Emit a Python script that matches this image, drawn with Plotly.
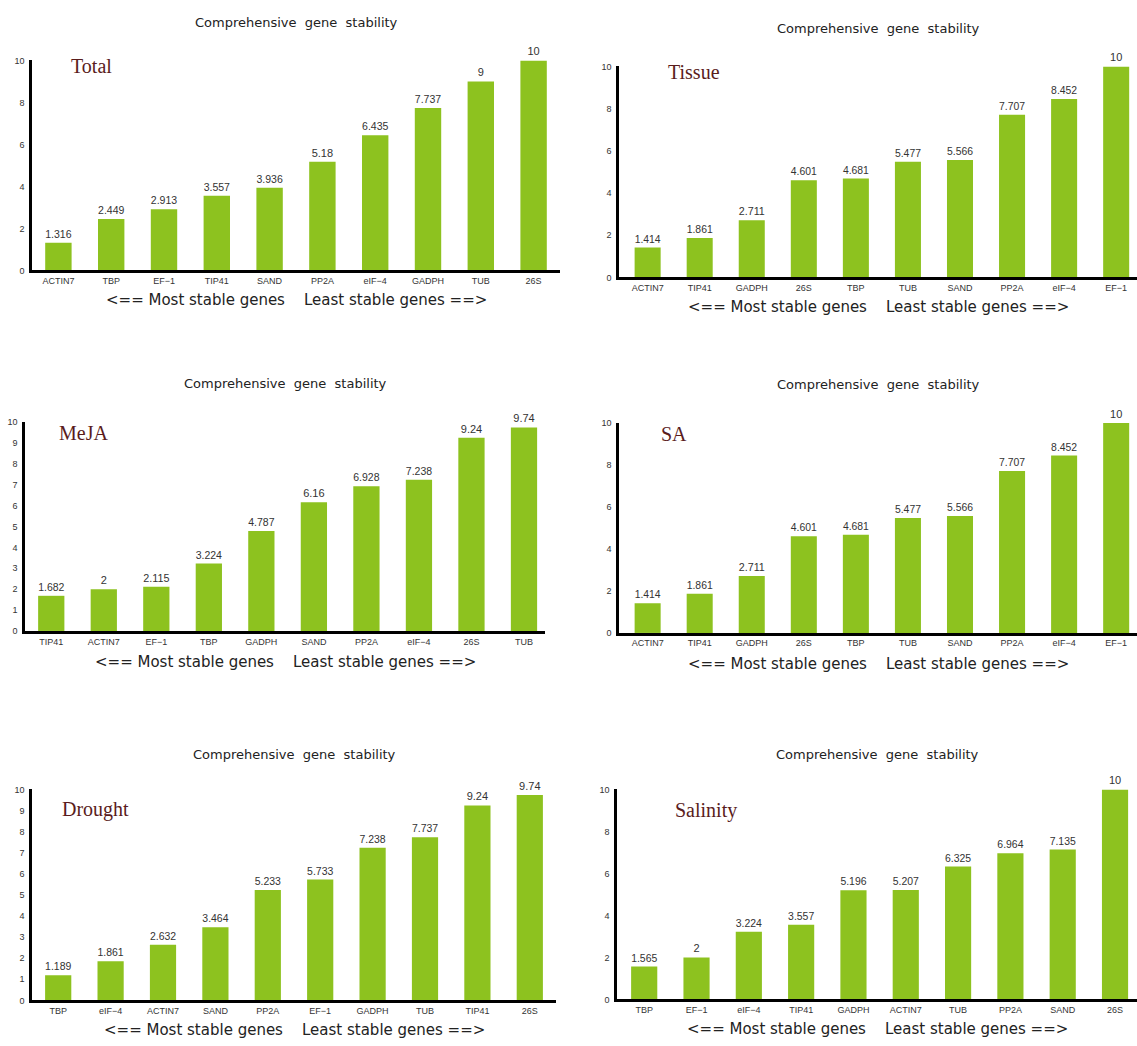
import plotly.graph_objects as go

# Comprehensive gene stability rankings (geometric mean of ranks) per condition
total_genes = ["ACTIN7", "TBP", "EF\u22121", "TIP41", "SAND", "PP2A", "eIF\u22124", "GADPH", "TUB", "26S"]
total_vals = [1.316, 2.449, 2.913, 3.557, 3.936, 5.18, 6.435, 7.737, 9, 10]

tissue_genes = ["ACTIN7", "TIP41", "GADPH", "26S", "TBP", "TUB", "SAND", "PP2A", "eIF\u22124", "EF\u22121"]
tissue_vals = [1.414, 1.861, 2.711, 4.601, 4.681, 5.477, 5.566, 7.707, 8.452, 10]

meja_genes = ["TIP41", "ACTIN7", "EF\u22121", "TBP", "GADPH", "SAND", "PP2A", "eIF\u22124", "26S", "TUB"]
meja_vals = [1.682, 2, 2.115, 3.224, 4.787, 6.16, 6.928, 7.238, 9.24, 9.74]

sa_genes = ["ACTIN7", "TIP41", "GADPH", "26S", "TBP", "TUB", "SAND", "PP2A", "eIF\u22124", "EF\u22121"]
sa_vals = [1.414, 1.861, 2.711, 4.601, 4.681, 5.477, 5.566, 7.707, 8.452, 10]

drought_genes = ["TBP", "eIF\u22124", "ACTIN7", "SAND", "PP2A", "EF\u22121", "GADPH", "TUB", "TIP41", "26S"]
drought_vals = [1.189, 1.861, 2.632, 3.464, 5.233, 5.733, 7.238, 7.737, 9.24, 9.74]

salinity_genes = ["TBP", "EF\u22121", "eIF\u22124", "TIP41", "GADPH", "ACTIN7", "TUB", "PP2A", "SAND", "26S"]
salinity_vals = [1.565, 2, 3.224, 3.557, 5.196, 5.207, 6.325, 6.964, 7.135, 10]

panel_names = ["Total", "Tissue", "MeJA", "SA", "Drought", "Salinity"]
y_steps = [2, 2, 1, 2, 1, 2]

W, H = 1137, 1046
BAR = "#8dc21f"
TITLE = "Comprehensive  gene  stability"
XTITLE = "<== Most stable genes    Least stable genes ==>"

# pixel geometry of each panel: axis left/right, y of value 0 and 10,
# x range, title y, axis-title y, panel label position
geom = [
    dict(x0=32, x1=560, y0=268, y10=56, xr=[-0.5, 9.5], ty=18, aty=298, lx=69, ly=62),
    dict(x0=619, x1=1137, y0=275, y10=62, xr=[-0.55, 9.4], ty=24, aty=305, lx=666, ly=68),
    dict(x0=25, x1=545, y0=632, y10=421, xr=[-0.5, 9.4], ty=382, aty=663, lx=57, ly=432),
    dict(x0=619, x1=1137, y0=634, y10=422, xr=[-0.55, 9.4], ty=383, aty=665, lx=659, ly=433),
    dict(x0=32, x1=556, y0=1005, y10=792, xr=[-0.5, 9.5], ty=757, aty=1035, lx=60, ly=812),
    dict(x0=617, x1=1137, y0=1004, y10=792, xr=[-0.52, 9.42], ty=757, aty=1034, lx=673, ly=813),
]

data = [
    (total_genes, total_vals),
    (tissue_genes, tissue_vals),
    (meja_genes, meja_vals),
    (sa_genes, sa_vals),
    (drought_genes, drought_vals),
    (salinity_genes, salinity_vals),
]

fig = go.Figure()
annotations = []
layout_axes = {}

for i, ((genes, vals), g) in enumerate(zip(data, geom)):
    n = i + 1
    xa = "x" if n == 1 else f"x{n}"
    ya = "y" if n == 1 else f"y{n}"
    fig.add_trace(go.Bar(
        x=list(range(len(genes))), y=vals,
        xaxis=xa, yaxis=ya,
        width=0.5,
        marker=dict(color=BAR, line=dict(width=0)),
        text=[f"{v:g}" for v in vals],
        textposition="outside",
        textfont=dict(family="Liberation Sans, Arial", size=11, color="#333333"),
        cliponaxis=False,
        showlegend=False,
        hoverinfo="skip",
    ))
    step = y_steps[i]
    layout_axes["xaxis" if n == 1 else f"xaxis{n}"] = dict(
        domain=[g["x0"] / W, min(g["x1"] / W, 1.0)],
        range=g["xr"],
        anchor=ya,
        tickmode="array",
        tickvals=list(range(len(genes))),
        ticktext=genes,
        tickfont=dict(family="Liberation Sans, Arial", size=9, color="#333333"),
        showline=True, linecolor="black", linewidth=2.5,
        showgrid=False, zeroline=False, ticks="",
        fixedrange=True,
    )
    layout_axes["yaxis" if n == 1 else f"yaxis{n}"] = dict(
        domain=[1 - g["y0"] / H, 1 - g["y10"] / H],
        range=[0, 10],
        anchor=xa,
        tickmode="array",
        tickvals=list(range(0, 11, step)),
        tickfont=dict(family="Liberation Sans, Arial", size=9, color="#333333"),
        showline=True, linecolor="black", linewidth=2.5,
        showgrid=False, zeroline=False, ticks="",
        ticklabelstandoff=3,
        fixedrange=True,
    )
    cx = (g["x0"] + g["x1"]) / 2 / W
    annotations.append(dict(
        text=TITLE, xref="paper", yref="paper", x=cx, y=1 - g["ty"] / H,
        xanchor="center", yanchor="middle", showarrow=False,
        font=dict(family="DejaVu Sans", size=13, color="#222222"),
    ))
    annotations.append(dict(
        text=XTITLE, xref="paper", yref="paper", x=cx, y=1 - g["aty"] / H,
        xanchor="center", yanchor="middle", showarrow=False,
        font=dict(family="DejaVu Sans", size=15, color="#222222"),
    ))
    annotations.append(dict(
        text=panel_names[i], xref="paper", yref="paper",
        x=g["lx"] / W, y=1 - g["ly"] / H,
        xanchor="left", yanchor="middle", showarrow=False,
        font=dict(family="Liberation Serif, Times New Roman", size=20, color="#5a1c1c"),
    ))

fig.update_layout(
    width=W, height=H,
    margin=dict(l=0, r=0, t=0, b=0),
    paper_bgcolor="white", plot_bgcolor="white",
    annotations=annotations,
    **layout_axes,
)

fig.write_html("out.html")
